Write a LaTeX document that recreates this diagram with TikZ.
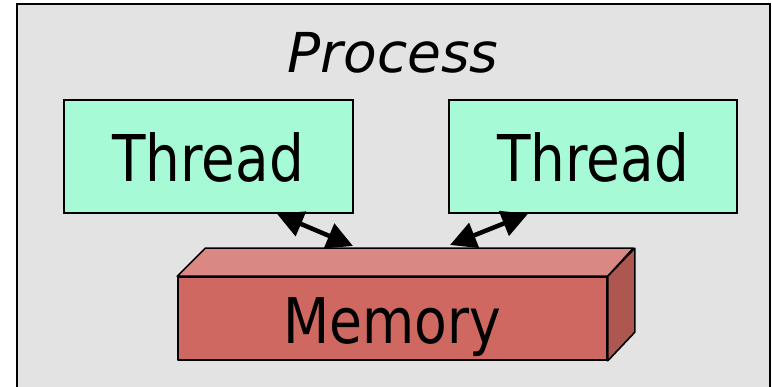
\documentclass[tikz,border=0pt]{standalone}
\usepackage{fontspec}
\setmainfont{DejaVu Sans}
\newfontfamily\thinsans[FakeStretch=0.85]{DejaVu Sans}
\usetikzlibrary{arrows.meta}
\definecolor{bggray}{HTML}{E3E3E3}
\definecolor{mint}{HTML}{A6FAD6}
\definecolor{memfront}{HTML}{CF6860}
\definecolor{memtop}{HTML}{DA8884}
\definecolor{memside}{HTML}{AE5650}
\tikzset{
  threadbox/.style={draw=black, line width=1.6pt, fill=mint, minimum width=289pt, minimum height=113pt, inner sep=0pt},
  face/.style={draw=black, line width=1.6pt, line join=round},
  biarrow/.style={line width=4.5pt, {Triangle[length=26pt,width=26pt]}-{Triangle[length=26pt,width=26pt]}},
  lbl/.style={font=\thinsans\fontsize{64.5}{70}\selectfont, anchor=base, inner sep=0pt}
}
\begin{document}
\begin{tikzpicture}[x=1pt,y=-1pt]
\useasboundingbox (0,0) rectangle (772,387);
\clip (0,0) rectangle (772,387);
\draw[fill=bggray, draw=black, line width=2.2pt] (17,4) rectangle (770,400);
\node[font=\itshape\fontsize{55}{60}\selectfont, anchor=base, inner sep=0pt] (proc) at (393,73) {Process};
\node[threadbox] (t1) at (208.5,156.5) {};
\node[threadbox, minimum width=288pt] (t2) at (593,156.5) {};
\node[lbl] (t1l) at (208,182) {Thread};
\node[lbl] (t2l) at (593,182) {Thread};
\node[face, fill=memfront, minimum width=429pt, minimum height=83pt, inner sep=0pt] (mem) at (392.5,318.5) {};
\draw[face, fill=memtop] (mem.north west) -- ++(28,-28) -- ++(428,0) -- (mem.north east) -- cycle;
\draw[face, fill=memside] (mem.north east) -- ++(27,-28) -- ++(0,84) -- (mem.south east) -- cycle;
\node[lbl, font=\thinsans\fontsize{63}{70}\selectfont] (meml) at (392,344) {Memory};
\coordinate (a1s) at ([xshift=68.5pt]t1.south);
\coordinate (a1e) at (353,246);
\coordinate (a2s) at ([xshift=-65pt]t2.south);
\coordinate (a2e) at (450,245);
\draw[biarrow] (a1s) -- (a1e);
\draw[biarrow] (a2s) -- (a2e);
\end{tikzpicture}
\end{document}
